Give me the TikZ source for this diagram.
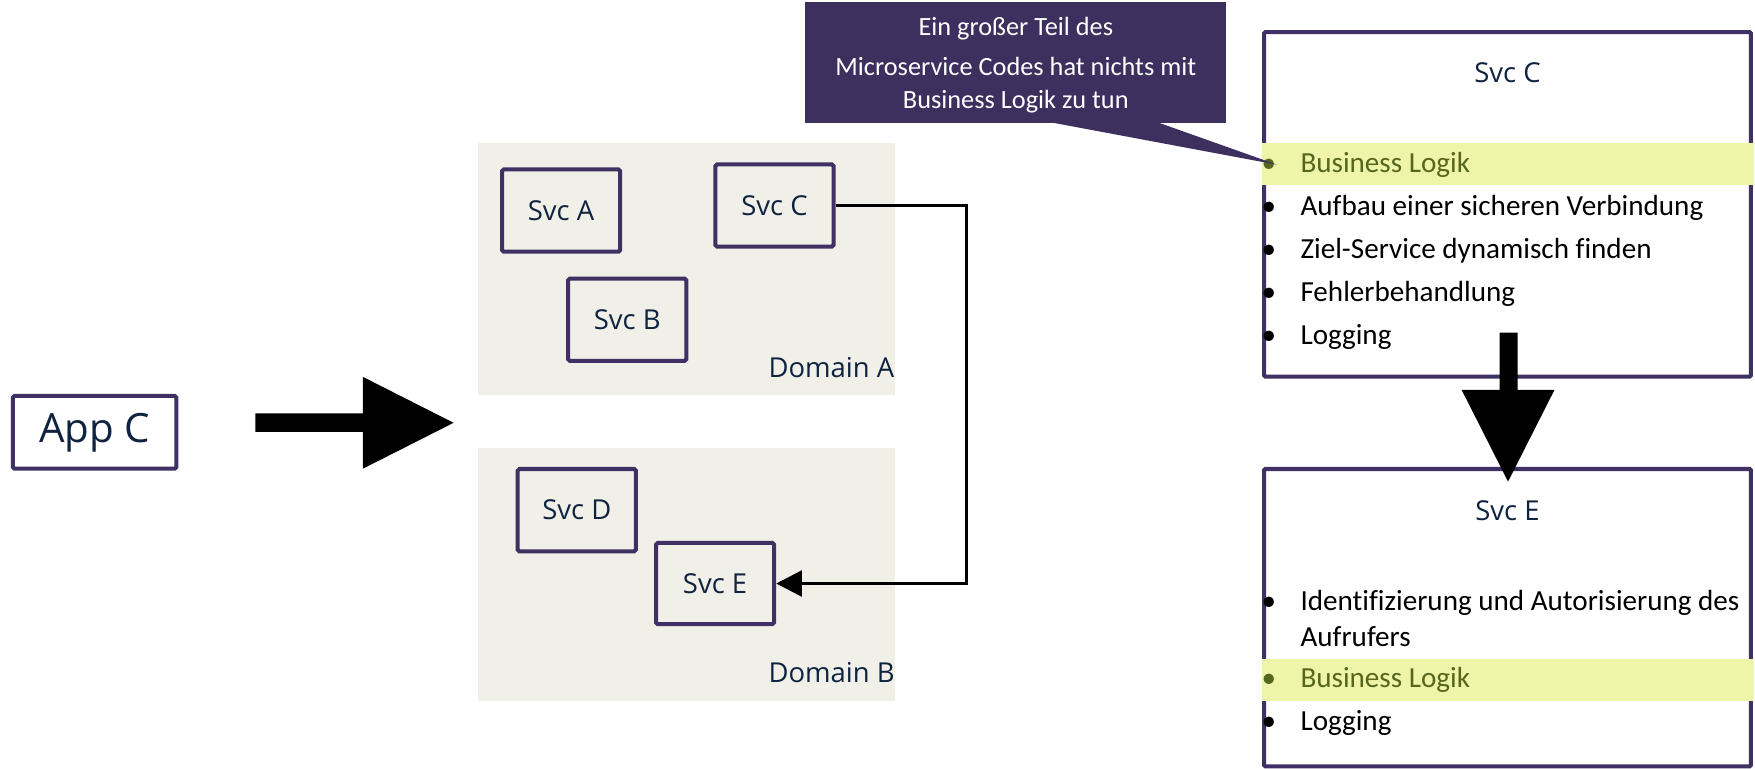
\documentclass[tikz,border=0pt]{standalone}
\usepackage{fontspec}
\setmainfont{Open Sans}
\newfontfamily\bodyfont[Ligatures=NoCommon]{Carlito}
\usetikzlibrary{arrows.meta}
\definecolor{boxpurple}{HTML}{3F3163}
\definecolor{calloutfill}{HTML}{3D2F5E}
\definecolor{domainbg}{HTML}{F0EFE8}
\definecolor{navytext}{HTML}{0F2340}
\definecolor{hlband}{HTML}{EEF5A8}
\definecolor{olivetext}{HTML}{56661E}
\begin{document}
\begin{tikzpicture}[x=1pt,y=-1pt,
  svc/.style={draw=boxpurple, line width=3.6pt, rounded corners=1.5pt, fill=domainbg,
    minimum width=105.5pt, minimum height=73.5pt, inner sep=0pt,
    font=\fontsize{24.5}{28}\selectfont, text=navytext},
  domainbox/.style={fill=domainbg, draw=none, minimum width=372pt, minimum height=225pt, inner sep=0pt},
  domainlabel/.style={anchor=base west, inner sep=0pt, font=\fontsize{24.5}{28}\selectfont, text=navytext},
  panel/.style={draw=boxpurple, line width=3.6pt, rounded corners=1pt, fill=white,
    minimum width=434.5pt, inner sep=0pt},
  paneltitle/.style={anchor=base, inner sep=0pt, font=\fontsize{24.5}{28}\selectfont, text=navytext},
  band/.style={fill=hlband, draw=none, minimum width=439pt, minimum height=37pt, inner sep=0pt},
  itemtext/.style={anchor=base west, inner sep=0pt, font=\bodyfont\fontsize{26}{30}\selectfont, text=black},
  bulletmark/.style={anchor=base, inner sep=0pt, font=\bodyfont\fontsize{26}{30}\selectfont, text=black},
  notetext/.style={anchor=base, inner sep=0pt, font=\bodyfont\fontsize{23.5}{28}\selectfont, text=white},
  conn/.style={draw=black, line width=3pt, -{Triangle[length=23pt,width=23pt]}},
  bigarrow/.style={fill=black, draw=none}
]
\useasboundingbox (0,0) rectangle (1567,686);

% App C
\node[svc, fill=white, minimum width=146pt, minimum height=65pt,
  font=\fontsize{36}{40}\selectfont] (appc) at (84.5,386) {App C};

% big right arrow
\fill[bigarrow] (228,369) -- (324,369) -- (324,336.5) -- (405,377.5) -- (324,418.5) -- (324,385.5) -- (228,385.5) -- cycle;

% domains
\node[domainbox] (doma) at (613,240.5) {};
\node[domainbox, minimum height=226pt] (domb) at (613,513) {};
\node[domainlabel] (domalabel) at (686,337) {Domain A};
\node[domainlabel] (domblabel) at (686,609) {Domain B};

% services
\node[svc] (svca) at (501,188) {Svc A};
\node[svc] (svcc) at (691.5,183.5) {Svc C};
\node[svc] (svcb) at (560,285.5) {Svc B};
\node[svc] (svcd) at (515,455.5) {Svc D};
\node[svc, minimum height=72.5pt] (svce) at (638.5,521) {Svc E};

% connector
\coordinate (rx) at (863,0);
\draw[conn] (svcc.east) -- (svcc.east -| rx) -- (svce.east -| rx) -- (svce.east);

% right panel Svc C
\node[panel, minimum height=307.5pt] (panelc) at (1346,182.5) {};
\node[band] (bandc) at (1346.5,146.5) {};
\node[paneltitle] (titlec) at (1346,74) {Svc C};
\node[bulletmark, text=olivetext] (bc1) at (1133,154) {•};
\node[itemtext, text=olivetext] (ic1) at (1161,154) {Business Logik};
\node[bulletmark] (bc2) at (1133,192) {•};
\node[itemtext] (ic2) at (1161,192) {Aufbau einer sicheren Verbindung};
\node[bulletmark] (bc3) at (1133,230.5) {•};
\node[itemtext] (ic3) at (1161,230.5) {Ziel-Service dynamisch finden};
\node[bulletmark] (bc4) at (1133,269.5) {•};
\node[itemtext] (ic4) at (1161,269.5) {Fehlerbehandlung};
\node[bulletmark] (bc5) at (1133,307.5) {•};
\node[itemtext] (ic5) at (1161,307.5) {Logging};

% right panel Svc E
\node[panel, minimum height=265.5pt] (panele) at (1346,551.5) {};
\node[band] (bande) at (1346.5,607) {};
\node[paneltitle] (titlee) at (1346,465) {Svc E};
\node[bulletmark] (be1) at (1133,545) {•};
\node[itemtext] (ie1) at (1161,545) {Identifizierung und Autorisierung des};
\node[itemtext] (ie1b) at (1161,577) {Aufrufers};
\node[bulletmark, text=olivetext] (be2) at (1133,614) {•};
\node[itemtext, text=olivetext] (ie2) at (1161,614) {Business Logik};
\node[bulletmark] (be3) at (1133,652.5) {•};
\node[itemtext] (ie3) at (1161,652.5) {Logging};

% big down arrow
\fill[bigarrow] (1339,297) -- (1355,297) -- (1355,348) -- (1388,348) -- (1346.5,430) -- (1305,348) -- (1339,348) -- cycle;

% callout
\node[fill=calloutfill, draw=none, minimum width=376pt, minimum height=108pt, inner sep=0pt] (note) at (907,56) {};
\fill[calloutfill] (937,109) -- (1140,147) -- (1033,109) -- cycle;
\node[notetext] (n1) at (907,32) {Ein großer Teil des};
\node[notetext] (n2) at (907,67) {Microservice Codes hat nichts mit};
\node[notetext] (n3) at (907,96.5) {Business Logik zu tun};
\end{tikzpicture}
\end{document}
